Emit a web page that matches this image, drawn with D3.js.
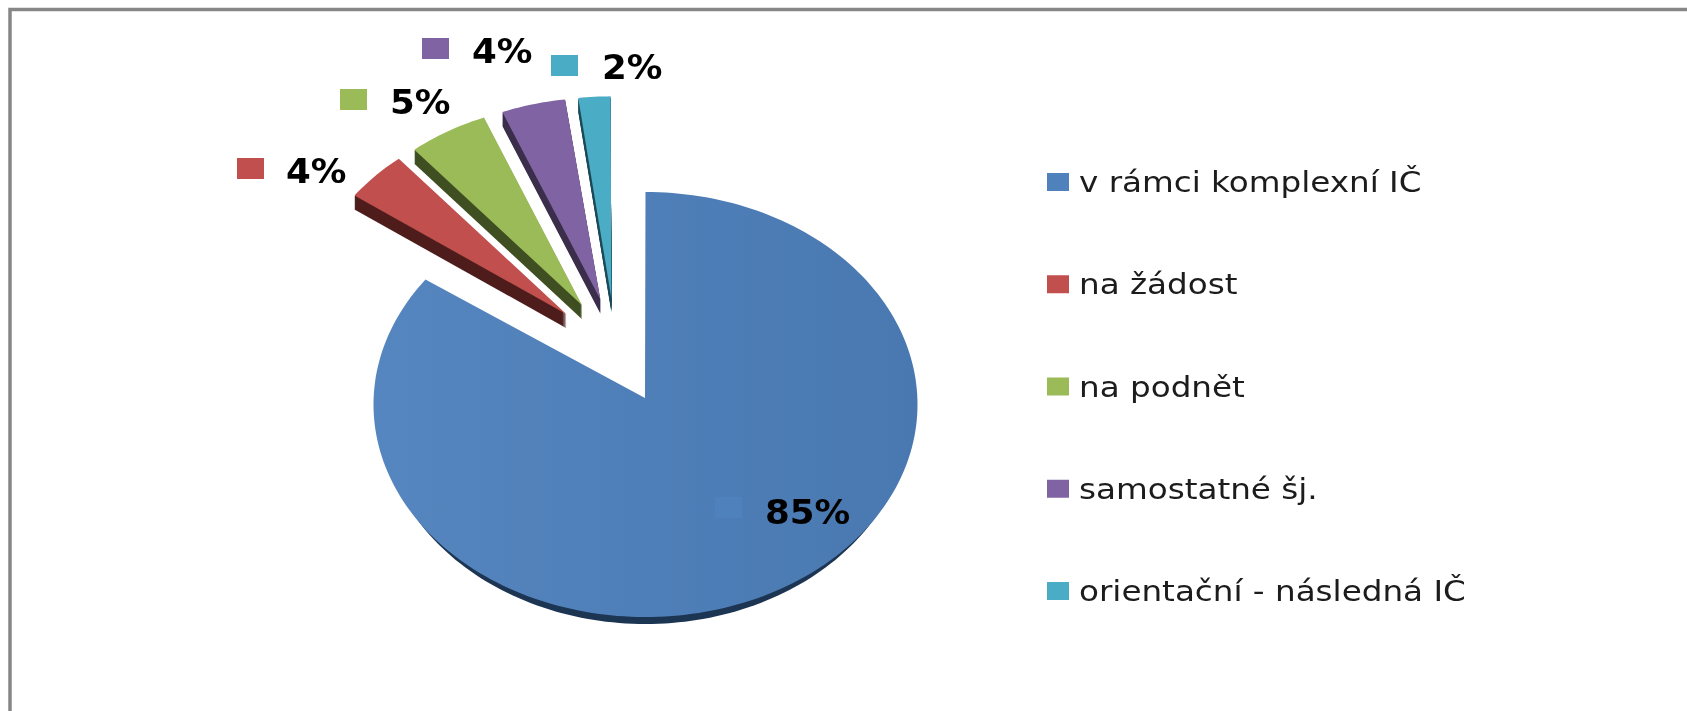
<!DOCTYPE html>
<html>
<head>
<meta charset="utf-8">
<script src="https://cdn.jsdelivr.net/npm/d3@7"></script>
<style>
  html, body { margin: 0; padding: 0; background: #fff; overflow: hidden; }
  text { font-family: "DejaVu Sans", sans-serif; }
</style>
</head>
<body>
<div id="chart"></div>
<script>
const categories = ['v rámci komplexní IČ', 'na žádost', 'na podnět', 'samostatné šj.', 'orientační - následná IČ'];
const shares = [85, 4, 5, 4, 2];
const colors = ['#4f81bd', '#c0504d', '#9bbb59', '#8064a2', '#4bacc6'];
const sideColors = ['#1f3553', '#4f1f1d', '#3f4f22', '#3a2d4c', '#1f4a58'];

const width = 1687, height = 711;
const cx = 645.5, cy = 404.5, rx = 272, ry = 212.5;
const apexY = 398;

const svg = d3.select('#chart').append('svg')
    .attr('width', width)
    .attr('height', height)
    .attr('viewBox', `0 0 ${width} ${height}`)
    .style('display', 'block');

const defs = svg.append('defs');
const soft = defs.append('filter').attr('id', 'soft');
soft.append('feGaussianBlur').attr('stdDeviation', 0.55);

const grad = defs.append('linearGradient').attr('id', 'blueFill')
    .attr('x1', 0).attr('y1', 0).attr('x2', 1).attr('y2', 0);
grad.append('stop').attr('offset', '0%').attr('stop-color', '#5586bf');
grad.append('stop').attr('offset', '100%').attr('stop-color', '#4a78b1');

const root = svg.append('g').attr('filter', 'url(#soft)');

// ramecek jen vlevo a nahore
root.append('path')
    .attr('d', `M10,${height} V9.5 H${width}`)
    .attr('fill', 'none')
    .attr('stroke', '#868686')
    .attr('stroke-width', 3.5);

const pie = d3.pie().sort(null).value(d => d);
const arcs = pie(shares);
const line = d3.line();

// kolac je v perspektive, proto elipsa misto kruhu
function wedge(d, ax, ay, ex, ey, r, rw = r) {
    const n = Math.max(8, Math.ceil((d.endAngle - d.startAngle) * 40));
    const pts = d3.range(n + 1).map(k => {
        const a = d.startAngle + (d.endAngle - d.startAngle) * k / n;
        return [ex + rx * rw * Math.sin(a), ey - ry * r * Math.cos(a)];
    });
    return line([[ax, ay], ...pts]) + 'Z';
}

arcs.forEach((d, i) => {
    const mid = (d.startAngle + d.endAngle) / 2;
    const exploded = i > 0;
    // posun vysunutych dilku
    const ox = exploded ? rx * (-0.11 + 0.26 * Math.sin(mid)) : 0;
    const oy = exploded ? -ry * (0.23 + 0.24 * Math.cos(mid)) : 0;
    const r = exploded ? 0.95 : 1;
    const ex = exploded ? cx - 0.5 + ox : cx;
    const ey = exploded ? apexY + oy : cy;
    const ax = exploded ? ex + Math.min(3, -12 * Math.sin(mid)) : cx - 0.5;
    const ay = apexY + oy;
    const depth = exploded ? 14 : 7;

    const g = root.append('g');
    // spodni hrana hlavniho dilku je videt jen dole
    const sideArc = exploded ? d : { startAngle: Math.PI / 2, endAngle: Math.PI * 1.5 };
    const sideW = exploded ? r : 0.975;
    d3.range(1, depth + 1).forEach(s => {
        g.append('path')
            .attr('d', wedge(sideArc, ax, ay, ex, ey, r, sideW))
            .attr('transform', `translate(0,${s})`)
            .attr('fill', sideColors[i]);
    });
    g.append('path')
        .attr('d', wedge(d, ax, ay, ex, ey, r))
        .attr('fill', exploded ? colors[i] : 'url(#blueFill)');
});

// popisky s klicem - rucne umistene jako v originale
const labelSpots = [
    { kx: 715, ky: 497, tx: 765, ty: 524 },
    { kx: 237, ky: 158, tx: 286, ty: 183 },
    { kx: 340, ky: 89, tx: 390, ty: 114 },
    { kx: 422, ky: 38, tx: 472, ty: 63 },
    { kx: 551, ky: 55, tx: 602, ty: 79 }
];
const labels = root.append('g').selectAll('g').data(arcs).join('g');
labels.append('rect')
    .attr('x', (d, i) => labelSpots[i].kx)
    .attr('y', (d, i) => labelSpots[i].ky)
    .attr('width', 27).attr('height', 21)
    .attr('fill', (d, i) => colors[i]);
labels.append('text')
    .attr('transform', (d, i) => `translate(${labelSpots[i].tx},${labelSpots[i].ty}) scale(1.08,1)`)
    .attr('font-size', 33)
    .attr('font-weight', 'bold')
    .attr('fill', '#000')
    .text(d => d.data + '%');

// legenda
const legendY = d3.scalePoint().domain(categories).range([173, 582]);
const legend = root.append('g').selectAll('g').data(categories).join('g')
    .attr('transform', d => `translate(1047,${legendY(d)})`);
legend.append('rect')
    .attr('width', 22).attr('height', 18)
    .attr('fill', (d, i) => colors[i]);
legend.append('text')
    .attr('transform', 'translate(32,19) scale(1.165,1)')
    .attr('font-size', 28)
    .attr('fill', '#1a1a1a')
    .text(d => d);
</script>
</body>
</html>
